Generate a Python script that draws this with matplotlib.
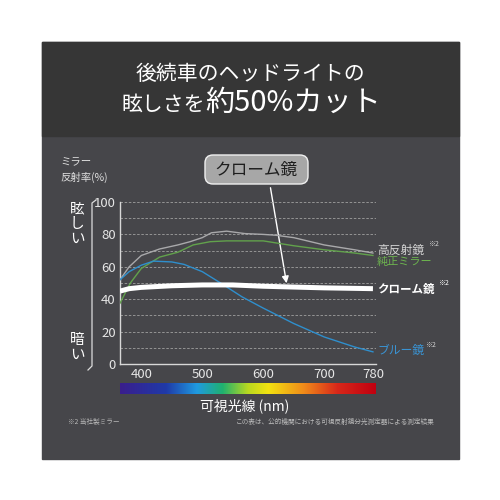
import matplotlib
matplotlib.use("Agg")
import matplotlib.pyplot as plt
import numpy as np
from matplotlib.patches import Rectangle, FancyBboxPatch
from matplotlib.colors import LinearSegmentedColormap

plt.rcParams["font.family"] = ["Noto Sans CJK JP", "DejaVu Sans"]

# data
gray_nm = [365, 380, 400, 430, 460, 480, 500, 515, 540, 570, 600, 620, 650, 700, 750, 780]
gray_val = [52, 60, 67, 71, 73.5, 75.5, 78, 81, 82, 80.5, 80, 79.5, 78, 73.5, 70.5, 68.5]
green_nm = [365, 382, 400, 430, 460, 485, 513, 540, 570, 600, 650, 700, 750, 780]
green_val = [37.5, 50, 59, 66, 69, 73.5, 75.5, 76, 76, 76, 73, 70.5, 68.5, 67]
blue_nm = [365, 380, 400, 420, 450, 470, 500, 530, 565, 600, 650, 700, 750, 780]
blue_val = [52, 57, 61, 63.5, 63, 61.5, 57, 50, 41.5, 34.5, 25, 16.7, 10.5, 7.5]
chrome_nm = [365, 380, 400, 450, 500, 550, 600, 650, 700, 780]
chrome_val = [45, 46.5, 47.3, 48.3, 48.8, 48.8, 48, 47.5, 47, 46.5]

x_ticks = [400, 500, 600, 700, 780]
y_ticks = [0, 20, 40, 60, 80, 100]

W = 500.0


def box(x0, y0, x1, y1):
    # pixel box (top-left origin) -> figure fraction rect
    return [x0 / W, 1 - y1 / W, (x1 - x0) / W, (y1 - y0) / W]


fig = plt.figure(figsize=(5, 5), dpi=100)
fig.patch.set_facecolor("white")

# background panels
bg = fig.add_axes([0, 0, 1, 1])
bg.set_xlim(0, W)
bg.set_ylim(W, 0)
bg.axis("off")
bg.add_patch(Rectangle((42, 42), 417, 417, color="#46464a", zorder=0))
bg.add_patch(Rectangle((42, 42), 417, 94, color="#363636", zorder=1))

# title
bg.text(250, 74, "後続車のヘッドライトの", color="white", fontsize=15,
        ha="center", va="center")
bg.text(205, 105, "眩しさを", color="white", fontsize=15, ha="right", va="center")
bg.text(205, 103, "約50%カット", color="white", fontsize=21, ha="left", va="center")

# axis captions
bg.text(60, 162, "ミラー", color="#e0e0e0", fontsize=7.5, ha="left", va="center")
bg.text(60, 177, "反射率(%)", color="#e0e0e0", fontsize=7.5, ha="left", va="center")
for i, ch in enumerate("眩しい"):
    bg.text(77, 209 + i * 15, ch, color="white", fontsize=10.5, ha="center", va="center")
for i, ch in enumerate("暗い"):
    bg.text(77, 340 + i * 15, ch, color="white", fontsize=10.5, ha="center", va="center")
bg.plot([96, 92, 92, 88], [200, 203, 366, 370], color="#dddddd", lw=0.9)

# main chart
ax = fig.add_axes(box(120, 202, 376, 364))
ax.set_facecolor("none")
ax.set_xlim(365, 785)
ax.set_ylim(0, 100)
for y in range(10, 101, 10):
    ax.axhline(y, color="#a0a0a0", lw=0.6, ls=(0, (3, 2)), zorder=1)
ax.plot(gray_nm, gray_val, color="#a9a9ab", lw=1.0, zorder=3)
ax.plot(green_nm, green_val, color="#62a24c", lw=1.0, zorder=3)
ax.plot(blue_nm, blue_val, color="#2f8fcd", lw=1.0, zorder=3)
ax.plot(chrome_nm, chrome_val, color="white", lw=3.6, zorder=4,
        solid_capstyle="butt")
for s in ["top", "right"]:
    ax.spines[s].set_visible(False)
for s in ["left", "bottom"]:
    ax.spines[s].set_color("#d8d8d8")
    ax.spines[s].set_linewidth(1.0)
ax.set_xticks(x_ticks)
ax.set_yticks(y_ticks)
ax.tick_params(length=0, colors="#e6e6e6", labelsize=9.5, pad=3)

# right side labels
bg.text(377, 250, "高反射鏡", color="#d2d2d2", fontsize=8.5, ha="left", va="center")
bg.text(428, 244, "※2", color="#d2d2d2", fontsize=5, ha="left", va="center")
bg.text(377, 262, "純正ミラー", color="#6db44f", fontsize=8, ha="left", va="center")
bg.text(377, 289, "クローム鏡", color="white", fontsize=8.3, ha="left", va="center",
        fontweight="bold")
bg.text(438, 283, "※2", color="white", fontsize=5, ha="left", va="center")
bg.text(377, 350, "ブルー鏡", color="#3a94d4", fontsize=8.5, ha="left", va="center")
bg.text(425, 345, "※2", color="#d2d2d2", fontsize=5, ha="left", va="center")

# callout
bg.add_patch(FancyBboxPatch((205, 155), 103, 29, boxstyle="round,pad=0,rounding_size=8",
                            facecolor="#a7a7a7", edgecolor="#f0f0f0", lw=1.0, zorder=5))
bg.text(256, 170, "クローム鏡", color="#1e1e1e", fontsize=12, ha="center", va="center",
        zorder=6)
bg.annotate("", xy=(287, 286), xytext=(270, 185),
            arrowprops=dict(arrowstyle="-|>", color="white", lw=1.0,
                            mutation_scale=10), zorder=6)

# spectrum bar
spec = fig.add_axes(box(120, 383, 376, 394))
spec_cmap = LinearSegmentedColormap.from_list(
    "spec", [(0.0, "#3a1e8c"), (0.18, "#1f3aa8"), (0.3, "#1f9ae0"), (0.4, "#1fb070"),
             (0.5, "#b8d820"), (0.58, "#f2e210"), (0.72, "#f08a1a"), (0.85, "#d8281a"),
             (1.0, "#c00010")])
spec.imshow(np.linspace(0, 1, 256)[None, :], aspect="auto", cmap=spec_cmap)
spec.axis("off")

bg.text(245, 406, "可視光線 (nm)", color="white", fontsize=10, ha="center", va="center")
bg.text(68, 422, "※2 当社製ミラー", color="#bbbbbb", fontsize=4.8, ha="left", va="center")
bg.text(435, 422, "この表は、公的機関における可視反射鏡分光測定器による測定結果",
        color="#bbbbbb", fontsize=4.8, ha="right", va="center")

fig.savefig("out.png", dpi=100, facecolor="white")
